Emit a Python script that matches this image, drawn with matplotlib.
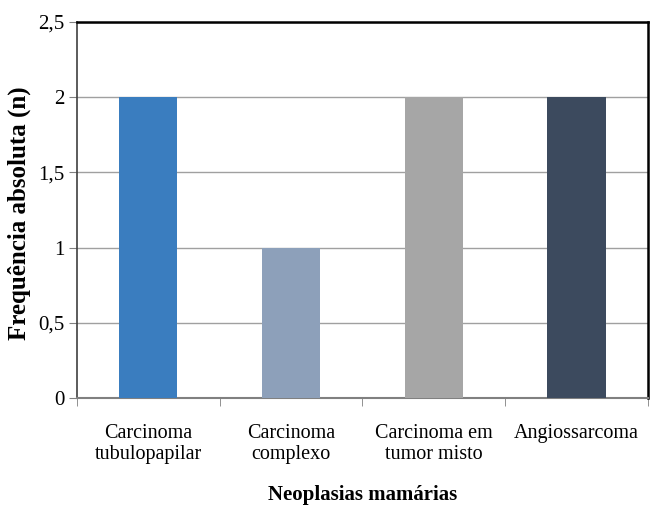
import matplotlib
matplotlib.use("Agg")
import matplotlib.pyplot as plt

categories = ["Carcinoma\ntubulopapilar", "Carcinoma\ncomplexo",
              "Carcinoma em\ntumor misto", "Angiossarcoma"]
values = [2, 1, 2, 2]
colors = ["#3a7dbf", "#8da0ba", "#a6a6a6", "#3c4a5e"]
yticks = [0, 0.5, 1, 1.5, 2, 2.5]
ytick_labels = ["0", "0,5", "1", "1,5", "2", "2,5"]

plt.rcParams['font.family'] = 'serif'
plt.rcParams['font.serif'] = ['Liberation Serif', 'DejaVu Serif']

fig = plt.figure(figsize=(6.56, 5.07), dpi=100)
ax = fig.add_axes([0.117, 0.215, 0.871, 0.742])

x = range(len(categories))
ax.bar(x, values, width=0.41, color=colors, zorder=3)

ax.set_ylim(0, 2.5)
ax.set_xlim(-0.5, len(categories) - 0.5)
ax.set_yticks(yticks)
ax.set_yticklabels(ytick_labels, fontsize=15)
ax.yaxis.grid(True, color="#a0a0a0", linewidth=1, zorder=0)

ax.set_xticks(list(x))
ax.set_xticklabels(categories, fontsize=14.5, linespacing=1.1)
ax.tick_params(axis="x", length=0, pad=19)
ax.set_xticks([i - 0.5 for i in range(len(categories) + 1)], minor=True)
ax.tick_params(axis="x", which="minor", length=6, color="#808080")
ax.tick_params(axis="y", length=6, color="#808080", pad=3)

for side in ["top", "right"]:
    ax.spines[side].set_color("black")
    ax.spines[side].set_linewidth(1.8)
ax.spines["left"].set_color("#404040")
ax.spines["left"].set_linewidth(1.2)
ax.spines["bottom"].set_color("#808080")
ax.spines["bottom"].set_linewidth(1.5)

ax.set_ylabel("Frequência absoluta (n)", fontsize=18, fontweight="bold")
ax.yaxis.set_label_coords(-0.08, 0.49)
ax.set_xlabel("Neoplasias mamárias", fontsize=15, fontweight="bold", labelpad=15)

fig.savefig("out.png", dpi=100)
